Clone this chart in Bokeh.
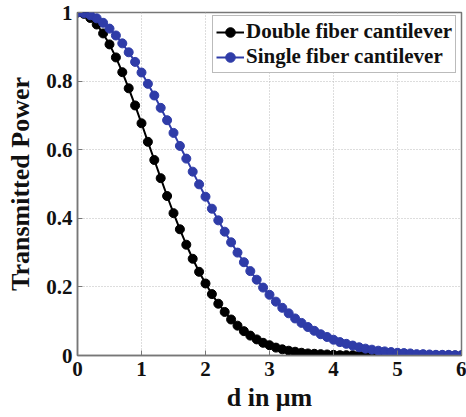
from bokeh.plotting import figure
from bokeh.models import FixedTicker, Legend, LegendItem
from bokeh.embed import file_html
from bokeh.resources import INLINE

d = [round(i * 0.1, 1) for i in range(61)]

double_fiber = [1.000, 0.996, 0.984, 0.965, 0.939, 0.907, 0.869, 0.826, 0.779, 0.729,
                0.677, 0.623, 0.570, 0.517, 0.465, 0.415, 0.368, 0.323, 0.282, 0.244,
                0.210, 0.179, 0.151, 0.127, 0.105, 0.087, 0.071, 0.058, 0.047, 0.037,
                0.030, 0.023, 0.018, 0.014, 0.011, 0.008, 0.006, 0.005, 0.004, 0.003,
                0.002, 0.001, 0.001, 0.001, 0.000, 0.000, 0.000, 0.000, 0.000, 0.000,
                0.000, 0.000, 0.000, 0.000, 0.000, 0.000, 0.000, 0.000, 0.000, 0.000,
                0.000]

single_fiber = [1.000, 0.998, 0.992, 0.983, 0.970, 0.953, 0.933, 0.910, 0.884, 0.856,
                0.825, 0.792, 0.758, 0.722, 0.686, 0.649, 0.611, 0.574, 0.536, 0.499,
                0.463, 0.428, 0.394, 0.361, 0.330, 0.300, 0.272, 0.246, 0.221, 0.198,
                0.177, 0.157, 0.139, 0.123, 0.108, 0.095, 0.083, 0.072, 0.062, 0.054,
                0.046, 0.039, 0.034, 0.029, 0.024, 0.020, 0.017, 0.014, 0.012, 0.010,
                0.008, 0.007, 0.006, 0.004, 0.004, 0.003, 0.002, 0.002, 0.002, 0.001,
                0.001]

x_ticks = [0, 1, 2, 3, 4, 5, 6]
y_ticks = [0, 0.2, 0.4, 0.6, 0.8, 1]
y_tick_labels = ["0", "0.2", "0.4", "0.6", "0.8", "1"]
labels = ["Double fiber cantilever", "Single fiber cantilever"]

BLACK = "#000000"
BLUE = "#2f3ca8"
FONT = "Liberation Serif"

p = figure(width=466, height=417, x_range=(0, 6), y_range=(0, 1),
           output_backend="svg", toolbar_location=None,
           min_border_left=77, min_border_right=5, min_border_top=12, min_border_bottom=62)

p.outline_line_color = "#777777"
p.outline_line_width = 1.5

for ax in (p.xaxis[0], p.yaxis[0]):
    ax.axis_line_color = "#777777"
    ax.axis_line_width = 1.5
    ax.major_tick_in = 5
    ax.major_tick_out = 0
    ax.minor_tick_line_color = None
    ax.major_tick_line_color = "#777777"
    ax.major_label_text_font = FONT
    ax.major_label_text_font_style = "bold"
    ax.major_label_text_font_size = "21px"
    ax.major_label_text_color = "#111111"
    ax.axis_label_text_font = FONT
    ax.axis_label_text_font_style = "bold"
    ax.axis_label_text_font_size = "26px"
    ax.axis_label_text_color = "#111111"

p.xaxis.ticker = FixedTicker(ticks=x_ticks)
p.yaxis.ticker = FixedTicker(ticks=y_ticks)
p.yaxis.major_label_overrides = {t: l for t, l in zip(y_ticks, y_tick_labels)}
p.xaxis.axis_label = "d in \u03bcm"
p.yaxis.axis_label = "Transmitted Power"
p.xaxis.major_label_standoff = 6
p.yaxis.major_label_standoff = 5
p.xaxis.axis_label_standoff = 4
p.yaxis.axis_label_standoff = 8

p.xgrid[0].ticker = FixedTicker(ticks=x_ticks)
p.ygrid[0].ticker = FixedTicker(ticks=y_ticks)
for g in (p.xgrid[0], p.ygrid[0]):
    g.grid_line_color = "#bbbbbb"
    g.grid_line_dash = "1 2"
    g.grid_line_width = 1

l1 = p.line(d, double_fiber, line_color=BLACK, line_width=2)
c1 = p.scatter(d, double_fiber, size=9, fill_color=BLACK, line_color=BLACK)
l2 = p.line(d, single_fiber, line_color=BLUE, line_width=2)
c2 = p.scatter(d, single_fiber, size=9, fill_color=BLUE, line_color=BLUE)

legend = Legend(items=[LegendItem(label=labels[0], renderers=[l1, c1]),
                       LegendItem(label=labels[1], renderers=[l2, c2])],
                location=(135, 282), margin=0, padding=3, spacing=0,
                glyph_width=28, glyph_height=24, label_height=24, label_standoff=2,
                label_text_font=FONT, label_text_font_style="bold",
                label_text_font_size="21px", label_text_color="#111111",
                border_line_color="#777777", border_line_width=1.5,
                background_fill_alpha=1)
p.add_layout(legend, "center")

open("out.html", "w").write(file_html(p, INLINE))
